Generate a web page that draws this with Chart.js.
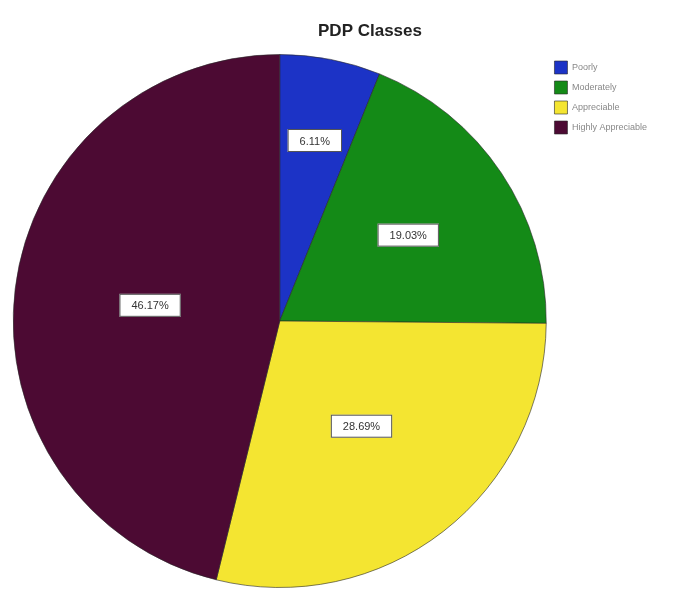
<!DOCTYPE html>
<html>
<head>
<meta charset="utf-8">
<script src="https://cdn.jsdelivr.net/npm/chart.js@4/dist/chart.umd.min.js"></script>
<style>
    html, body { margin: 0; padding: 0; background: #ffffff; }
    #wrap { width: 683px; height: 590px; }
</style>
</head>
<body>
<div id="wrap"><canvas id="chart1"></canvas></div>
<script>
const categories = ['Poorly', 'Moderately', 'Appreciable', 'Highly Appreciable'];
const percentValues = [6.11, 19.03, 28.69, 46.17];
const sliceColors = ['#1c33c6', '#148a17', '#f4e531', '#4c0a33'];
const chartTitle = 'PDP Classes';

// how far out from the centre each value box sits (fraction of radius)
const labelRadius = [0.69, 0.58, 0.5, 0.49];

const titlePlugin = {
    id: 'sideTitle',
    afterDraw(chart) {
        const ctx = chart.ctx;
        ctx.save();
        ctx.fillStyle = '#222';
        ctx.font = 'bold 17px "Liberation Sans", Arial, sans-serif';
        ctx.textAlign = 'center';
        ctx.textBaseline = 'middle';
        ctx.fillText(chartTitle, 370, 31);
        ctx.restore();
    }
};

const valueBoxPlugin = {
    id: 'valueBoxes',
    afterDatasetsDraw(chart) {
        const ctx = chart.ctx;
        const meta = chart.getDatasetMeta(0);
        ctx.save();
        ctx.font = '11px "Liberation Sans", Arial, sans-serif';
        ctx.textAlign = 'center';
        ctx.textBaseline = 'middle';
        meta.data.forEach((arc, i) => {
            const p = arc.getProps(['x', 'y', 'startAngle', 'endAngle', 'outerRadius'], true);
            const mid = (p.startAngle + p.endAngle) / 2;
            const r = p.outerRadius * labelRadius[i];
            const x = p.x + Math.cos(mid) * r;
            const y = p.y + Math.sin(mid) * r;
            const text = percentValues[i].toFixed(2) + '%';
            const w = ctx.measureText(text).width + 24;
            const h = 23;
            ctx.fillStyle = '#ffffff';
            ctx.fillRect(x - w / 2, y - h / 2, w, h);
            ctx.strokeStyle = '#555';
            ctx.lineWidth = 1;
            ctx.strokeRect(x - w / 2 + 0.5, y - h / 2 + 0.5, w - 1, h - 1);
            ctx.fillStyle = '#333';
            ctx.fillText(text, x, y + 1);
        });
        ctx.restore();
    }
};

new Chart(document.getElementById('chart1'), {
    type: 'pie',
    data: {
        labels: categories,
        datasets: [{
            data: percentValues,
            backgroundColor: sliceColors,
            borderColor: 'rgba(40,40,40,0.6)',
            borderWidth: 1
        }]
    },
    options: {
        responsive: true,
        maintainAspectRatio: false,
        animation: false,
        layout: {
            padding: {top: 54, left: 12, right: 26, bottom: 2}
        },
        plugins: {
            title: {display: false},
            tooltip: {enabled: false},
            legend: {
                position: 'right',
                align: 'start',
                labels: {
                    boxWidth: 13,
                    boxHeight: 13,
                    padding: 7,
                    color: '#888',
                    font: {size: 9, family: '"Liberation Sans", Arial, sans-serif'}
                }
            }
        }
    },
    plugins: [titlePlugin, valueBoxPlugin]
});
</script>
</body>
</html>
